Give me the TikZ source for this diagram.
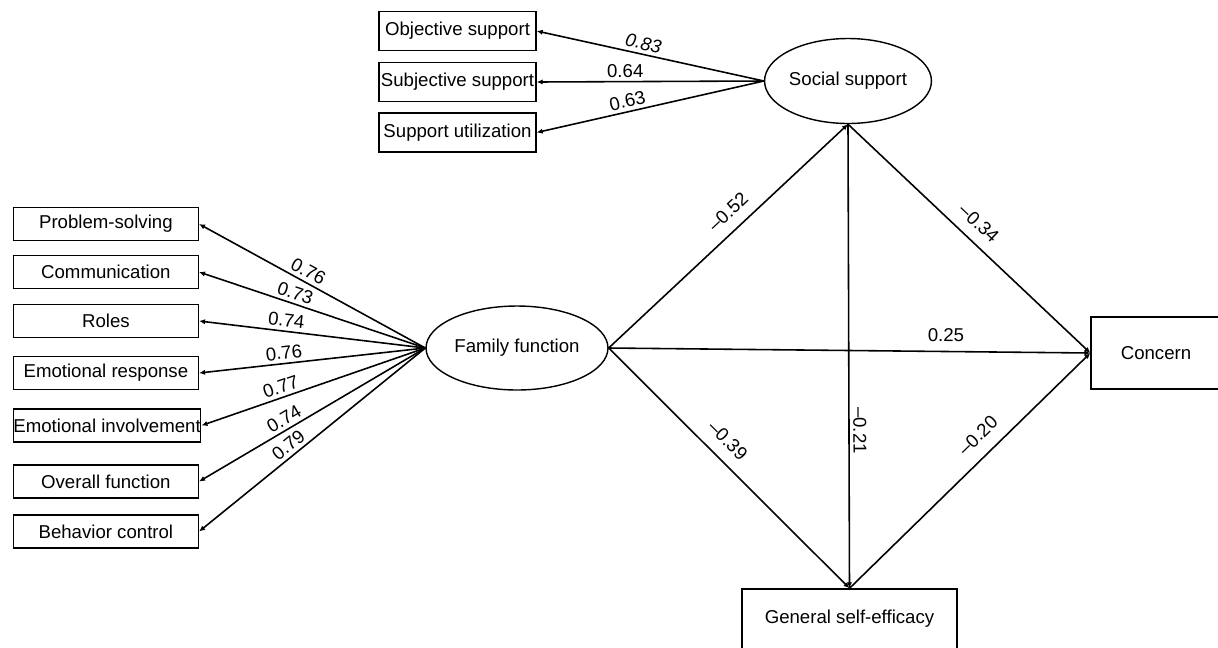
\documentclass[tikz,border=0pt]{standalone}
\usepackage{fontspec}
\setmainfont{Liberation Sans}
\usetikzlibrary{shapes}
\usetikzlibrary{arrows.meta}

\begin{document}
\begin{tikzpicture}[x=0.02cm, y=-0.02cm,
  font=\fontsize{10.6}{12}\selectfont,
  box/.style={draw, line width=0.8pt, inner sep=0pt},
  lbox/.style={box, minimum width=3.7cm, minimum height=0.66cm, anchor=west},
  tbox/.style={box, minimum width=3.14cm, minimum height=0.78cm},
  latent/.style={draw, ellipse, line width=0.8pt, inner sep=0pt},
  arr/.style={line width=0.9pt, -{Latex[length=3.4pt,width=3pt]}},
  lbl/.style={sloped, above, inner sep=2pt}]
\useasboundingbox (0,0) rectangle (1218,647);
\node(ssup) [latent, minimum width=3.22cm, minimum height=1.7cm] at (848,81) {Social support};
\node(ffun) [latent, minimum width=3.64cm, minimum height=1.68cm] at (517,348) {Family function};
\node(conc) [box, minimum width=2.6cm, minimum height=1.44cm] at (1156,353) {Concern};
\node(gse) [box, minimum width=4.3cm, minimum height=1.2cm] at (849.5,619) {General self-efficacy};
\node(obj) [tbox] at (457.5,31) {Objective support};
\node(subj) [tbox] at (457.5,82) {Subjective support};
\node(util) [tbox] at (457.5,132.5) {Support utilization};
\node(prob) [lbox] at (12.7,224) {Problem-solving};
\node(comm) [lbox] at (12.7,272) {Communication};
\node(role) [lbox] at (12.7,321) {Roles};
\node(eres) [lbox] at (12.7,373) {Emotional response};
\node(einv) [lbox] at (12.7,425.5) {Emotional involvement};
\node(over) [lbox] at (12.7,481.5) {Overall function};
\node(beha) [lbox] at (12.7,531.5) {Behavior control};
\draw[arr] (ssup.west) -- node[lbl, pos=0.54] {\itshape 0.83} (obj.east);
\draw[arr] (ssup.west) -- node[lbl, pos=0.61] {0.64} (subj.east);
\draw[arr] (ssup.west) -- node[lbl, pos=0.59] {0.63} (util.east);
\draw[arr] (ffun.west) -- node[lbl, pos=0.54] {0.76} (prob.east);
\draw[arr] (ffun.west) -- node[lbl, pos=0.59] {0.73} (comm.east);
\draw[arr] (ffun.west) -- node[lbl, pos=0.62] {0.74} (role.east);
\draw[arr] (ffun.west) -- node[lbl, pos=0.62] {0.76} (eres.east);
\draw[arr] (ffun.west) -- node[lbl, pos=0.63] {0.77} (einv.east);
\draw[arr] (ffun.west) -- node[lbl, pos=0.6] {0.74} (over.east);
\draw[arr] (ffun.west) -- node[lbl, pos=0.575] {0.79} (beha.east);
\draw[arr] (ffun.east) -- node[lbl, pos=0.55, above=4pt] {\textendash0.52} (ssup.south);
\draw[arr] (ssup.south) -- node[lbl, pos=0.49, above=4pt] {\textendash0.34} (conc.west);
\draw[arr] (ffun.east) -- node[lbl, pos=0.7, above=3pt] {0.25} (conc.west);
\draw[arr] (ffun.east) -- node[lbl, pos=0.44, above=4.5pt] {\textendash0.39} (gse.north);
\draw[arr] (ssup.south) -- node[lbl, pos=0.66] {\textendash0.21} (gse.north);
\draw[arr] (gse.north) -- node[lbl, pos=0.59, above=5pt] {\textendash0.20} (conc.west);
\end{tikzpicture}
\end{document}
